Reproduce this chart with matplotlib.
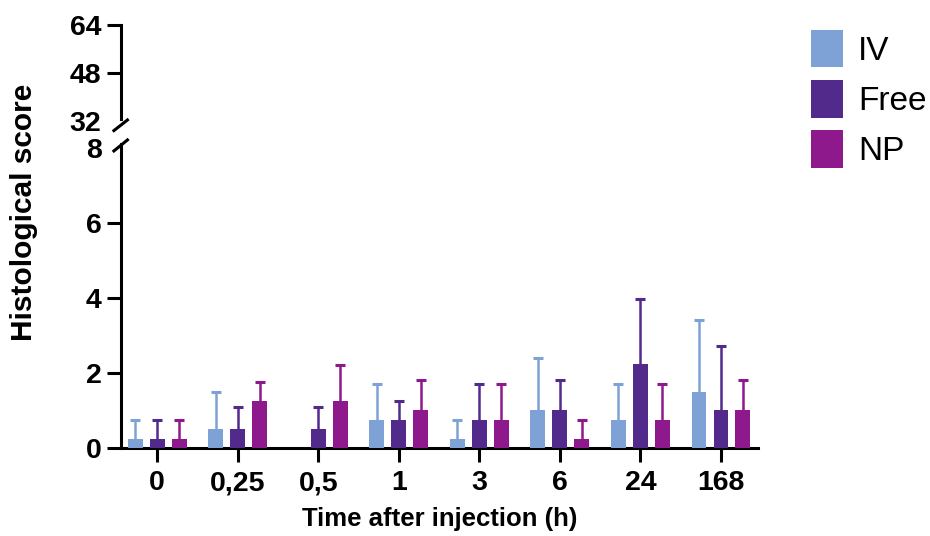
import numpy as np
import matplotlib
matplotlib.use("Agg")
import matplotlib.pyplot as plt
from matplotlib.patches import Patch

plt.rcParams['font.family'] = ['Liberation Sans', 'DejaVu Sans']

times = ['0', '0,25', '0,5', '1', '3', '6', '24', '168']
groups = ['IV', 'Free', 'NP']
colors = ['#7EA2D6', '#512A8C', '#8E198D']

iv_mean = [0.25, 0.5, 0.0, 0.75, 0.25, 1.0, 0.75, 1.5]
iv_sd = [0.5, 1.0, 0.0, 0.96, 0.5, 1.41, 0.96, 1.91]
free_mean = [0.25, 0.5, 0.5, 0.75, 0.75, 1.0, 2.25, 1.0]
free_sd = [0.5, 0.58, 0.58, 0.5, 0.96, 0.82, 1.71, 1.71]
np_mean = [0.25, 1.25, 1.25, 1.0, 0.75, 0.25, 0.75, 1.0]
np_sd = [0.5, 0.5, 0.96, 0.82, 0.96, 0.5, 0.96, 0.82]

means = [iv_mean, free_mean, np_mean]
sds = [iv_sd, free_sd, np_sd]

fig = plt.figure(figsize=(9.3, 5.36), dpi=100)
ax = fig.add_axes([0.1301, 0.1642, 0.685, 0.5597])
ax_top = fig.add_axes([0.1301, 0.7743, 0.685, 0.1791])

lw = 2.2
x = np.arange(len(times))
width = 0.186
offsets = [-0.273, 0.0, 0.273]

for m, s, c, off in zip(means, sds, colors, offsets):
    m = np.array(m)
    s = np.array(s)
    xs = x + off
    ax.bar(xs, m, width, color=c, zorder=3)
    keep = s > 0
    eb = ax.errorbar(xs[keep], m[keep], yerr=[np.zeros(keep.sum()), s[keep]],
                     fmt='none', ecolor=c, elinewidth=1.8, capsize=3.8,
                     capthick=2.2, zorder=2)
    eb[1][0].set_visible(False)

ax.set_xlim(-0.45, 7.46)
ax.set_ylim(0, 8)
ax.set_yticks([0, 2, 4, 6, 8])
ax.set_xticks(x)
ax.set_xticklabels(times)
ax.yaxis.get_major_ticks()[-1].tick1line.set_visible(False)

ax_top.set_xlim(-0.45, 7.46)
ax_top.set_ylim(32, 64)
ax_top.set_yticks([32, 48, 64])
ax_top.yaxis.get_major_ticks()[0].tick1line.set_visible(False)
ax_top.set_xticks([])

for a in (ax, ax_top):
    a.spines['top'].set_visible(False)
    a.spines['right'].set_visible(False)
    a.spines['left'].set_linewidth(lw)
    a.spines['bottom'].set_linewidth(lw)
    a.tick_params(axis='both', width=lw, length=10, labelsize=20.5, pad=4)
    for lab in a.get_xticklabels() + a.get_yticklabels():
        lab.set_fontweight('bold')
ax_top.spines['bottom'].set_visible(False)
ax.tick_params(axis='x', pad=6)

# break marks on the y axis
kw = dict(color='k', lw=lw, clip_on=False, solid_capstyle='butt')
ax_top.plot([-0.013, 0.012], [-0.11, 0.02], transform=ax_top.transAxes, **kw)
ax.plot([-0.013, 0.012], [0.987, 1.03], transform=ax.transAxes, **kw)
ax_top.spines['left'].set_bounds(32.5, 64)
ax.spines['left'].set_bounds(0, 8.1)

ax.set_xlabel('Time after injection (h)', fontsize=18.5, fontweight='bold', labelpad=8)
fig.text(0.026, 0.604, 'Histological score', rotation=90, fontsize=21.5,
         fontweight='bold', ha='center', va='center')

handles = [Patch(facecolor=c, edgecolor='none') for c in colors]
fig.legend(handles, groups, loc='upper left', bbox_to_anchor=(0.8725, 0.944),
           frameon=False, fontsize=24, handlelength=0.95, handleheight=1.35,
           handletextpad=0.45, labelspacing=0.38, borderpad=0, borderaxespad=0)

fig.savefig('out.png', dpi=100)
